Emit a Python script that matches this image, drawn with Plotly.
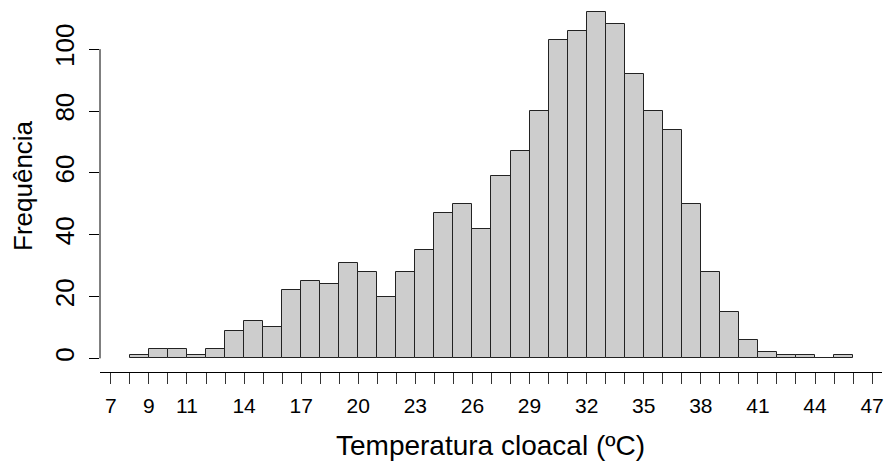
import plotly.graph_objects as go

# Histogram bins (left edges, width 1 °C) and frequencies
bin_starts = list(range(8, 46))
counts = [1, 3, 3, 1, 3, 9, 12, 10, 22, 25, 24, 31, 28, 20, 28, 35, 47, 50, 42, 59,
          67, 80, 103, 106, 112, 108, 92, 80, 74, 50, 28, 15, 6, 2, 1, 1, 0, 1]

x_ticks = list(range(7, 48))
x_labelled = [7, 9, 11, 14, 17, 20, 23, 26, 29, 32, 35, 38, 41, 44, 47]
x_ticktext = [str(v) if v in x_labelled else "" for v in x_ticks]
y_ticks = [0, 20, 40, 60, 80, 100]

FONT = "Liberation Sans, Arial, sans-serif"

W, H = 885, 461
L, R, T, B = 100, 3, 0, 89
plot_w = W - L - R
plot_h = H - T - B

fig = go.Figure()
fig.add_trace(go.Bar(
    x=bin_starts, y=counts, width=1, offset=0,
    marker=dict(color="#cdcdcd", line=dict(color="#222222", width=1)),
    showlegend=False,
))

fig.update_layout(
    width=W, height=H,
    margin=dict(l=L, r=R, t=T, b=B, autoexpand=False),
    plot_bgcolor="white", paper_bgcolor="white",
    bargap=0,
    font=dict(family=FONT, color="black"),
    xaxis=dict(
        range=[6.43, 47.52], tickmode="array", tickvals=x_ticks, ticktext=x_ticktext,
        ticks="outside", ticklen=11, tickwidth=1, tickcolor="#333333",
        showline=True, linecolor="black", linewidth=1,
        showgrid=False, zeroline=False, automargin=False,
        tickfont=dict(size=21, family=FONT), ticklabelstandoff=4,
    ),
    yaxis=dict(
        range=[-4.4, 115.9], tickmode="array", tickvals=y_ticks,
        ticks="outside", ticklen=10, tickwidth=1, tickcolor="black",
        showline=False, showgrid=False, zeroline=False, tickangle=-90,
        automargin=False, ticklabelstandoff=5,
        tickfont=dict(size=26, family=FONT),
    ),
    shapes=[dict(type="line", xref="paper", yref="y", x0=0, x1=0, y0=0, y1=100,
                 line=dict(color="black", width=1))],
    annotations=[
        dict(text="Temperatura cloacal (ºC)", xref="paper", yref="paper",
             x=(490 - L) / plot_w, y=(plot_h - 445) / plot_h,
             xanchor="center", yanchor="middle", showarrow=False,
             font=dict(size=28, family=FONT)),
        dict(text="Frequência", xref="paper", yref="paper",
             x=(23 - L) / plot_w, y=0.5, textangle=-90,
             xanchor="center", yanchor="middle", showarrow=False,
             font=dict(size=26, family=FONT)),
    ],
)

fig.write_html("out.html", config={"displayModeBar": False},
               post_script="document.body.style.margin='0';document.body.style.overflow='hidden';")
